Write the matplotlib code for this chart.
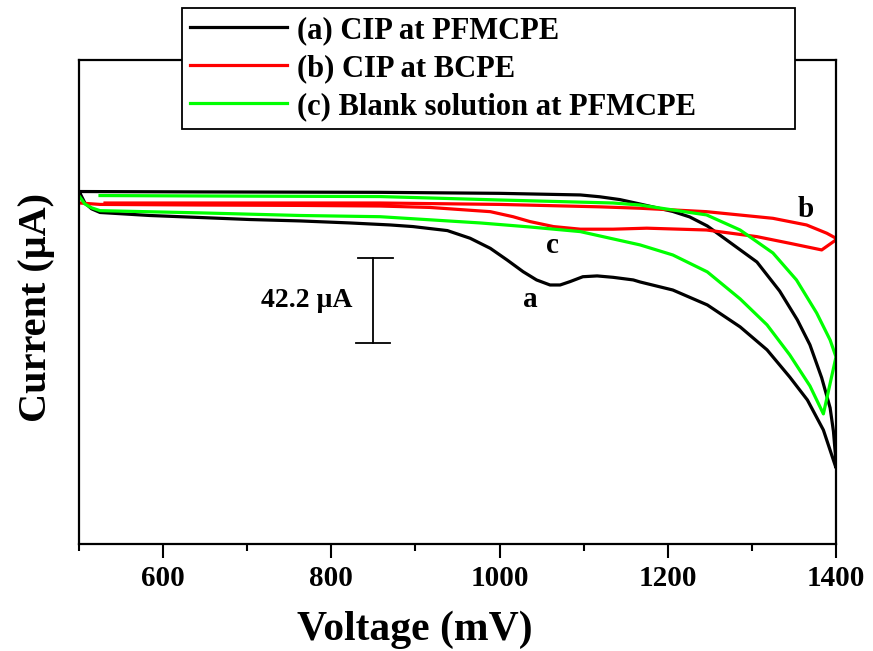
import matplotlib.pyplot as plt
from matplotlib.ticker import FixedLocator

plt.rcParams['font.family'] = ['Liberation Serif', 'DejaVu Serif']
plt.rcParams['font.weight'] = 'bold'

# (a) CIP at PFMCPE  -- voltage (mV), current (uA)
a_fwd_v = [501, 504, 507, 515, 525, 584, 644, 703, 763, 822, 870, 897, 938, 965, 989,
           1009, 1028, 1044, 1060, 1072, 1084, 1099, 1116, 1135, 1159, 1167, 1206, 1247,
           1286, 1318, 1345, 1366, 1385, 1400]
a_fwd_i = [-0.5, -3.0, -5.5, -8.4, -10.2, -11.7, -12.7, -13.7, -14.4, -15.4, -16.4, -17.2,
           -19.2, -23.0, -28.0, -33.8, -39.6, -43.7, -46.2, -46.2, -44.5, -42.1, -41.7,
           -42.4, -43.7, -44.7, -48.7, -56.1, -67.0, -78.4, -91.9, -103.3, -118.2, -137.0]
a_rev_v = [1400, 1397, 1393, 1383, 1369, 1354, 1333, 1306, 1278, 1247, 1226, 1206, 1167,
           1143, 1119, 1096, 1000, 858, 644, 501]
a_rev_i = [-134.0, -119.0, -107.2, -92.3, -75.9, -63.5, -49.2, -34.8, -26.3, -16.9, -12.4,
           -9.7, -6.0, -3.8, -2.4, -1.5, -0.7, -0.2, 0.0, 0.2]

# (b) CIP at BCPE
b_fwd_v = [501, 525, 644, 763, 858, 917, 989, 1016, 1036, 1064, 1096, 1135, 1175, 1246,
           1306, 1345, 1383, 1400]
b_fwd_i = [-5.5, -6.2, -6.5, -6.7, -7.0, -7.7, -9.8, -12.3, -14.7, -17.2, -18.5, -18.5,
           -18.0, -18.9, -22.2, -25.5, -28.8, -23.8]
b_rev_v = [1400, 1389, 1365, 1325, 1246, 1167, 1119, 1000, 858, 703, 531]
b_rev_i = [-23.0, -20.5, -16.4, -13.1, -9.8, -8.1, -7.4, -6.2, -5.5, -5.5, -5.5]

# (c) Blank solution at PFMCPE
c_fwd_v = [501, 507, 515, 525, 644, 763, 858, 977, 1036, 1096, 1167, 1206, 1247, 1286,
           1318, 1345, 1369, 1385]
c_fwd_i = [-2.5, -6.0, -7.9, -9.3, -10.4, -11.7, -12.3, -15.4, -17.4, -19.7, -26.3, -31.3,
           -39.7, -53.1, -66.0, -80.9, -96.3, -110.2]
c_rev_v = [1400, 1393, 1377, 1353, 1325, 1286, 1246, 1226, 1167, 1135, 1000, 858, 703, 525]
c_rev_i = [-81.9, -73.5, -60.1, -43.7, -30.3, -18.9, -11.4, -10.2, -6.5, -5.5, -4.0, -2.3,
           -2.1, -1.8]

labels = ['(a) CIP at PFMCPE', '(b) CIP at BCPE', '(c) Blank solution at PFMCPE']
colors = ['black', '#ff0000', '#00ff00']

# scale bar
bar_v = 849
bar_top = -32.6
bar_len = 42.2

fig = plt.figure(figsize=(8.73, 6.51), dpi=100)
ax = fig.add_axes([79 / 873, 1 - 544 / 651, 757 / 873, 484 / 651])

series = [(a_fwd_v + a_rev_v, a_fwd_i + a_rev_i),
          (b_fwd_v + b_rev_v, b_fwd_i + b_rev_i),
          (c_fwd_v + c_rev_v, c_fwd_i + c_rev_i)]
lines = []
for (v, i), lab, col in zip(series, labels, colors):
    ln, = ax.plot(v, i, color=col, lw=2.3, label=lab, solid_joinstyle='round')
    lines.append(ln)

ax.set_xlim(500, 1400)
ax.set_ylim(-174.8, 65.5)

# scale bar
ax.plot([bar_v, bar_v], [bar_top, bar_top - bar_len], color='black', lw=1.3)
ax.plot([bar_v - 17, bar_v + 24], [bar_top, bar_top], color='black', lw=1.3)
ax.plot([bar_v - 20, bar_v + 21], [bar_top - bar_len, bar_top - bar_len], color='black', lw=1.3)
ax.text(bar_v - 24, bar_top - bar_len / 2, '42.2 \u03bcA', fontsize=20, ha='right', va='center')

ax.text(1037, -53.6, 'a', fontsize=21, ha='center', va='center')
ax.text(1364, -8.9, 'b', fontsize=21, ha='center', va='center')
ax.text(1063, -26.8, 'c', fontsize=21, ha='center', va='center')

ax.set_xticks([600, 800, 1000, 1200, 1400])
ax.xaxis.set_minor_locator(FixedLocator([500, 700, 900, 1100, 1300]))
ax.tick_params(which='major', length=10, width=1.5, direction='out', labelsize=21, pad=5)
ax.tick_params(which='minor', length=5, width=1.5, direction='out')
ax.set_yticks([])
for sp in ax.spines.values():
    sp.set_linewidth(1.6)

ax.set_xlabel('Voltage (mV)', fontsize=30, fontweight='bold')
ax.xaxis.set_label_coords(0.444, -0.137)
ax.set_ylabel('Current (\u03bcA)', fontsize=29, fontweight='bold')
ax.yaxis.set_label_coords(-0.032, 0.488)

leg = ax.legend(handles=lines, loc='upper left', bbox_to_anchor=(0.136, 1.107, 0.81, 0),
                mode='expand', borderaxespad=0, fancybox=False, edgecolor='black',
                framealpha=1, fontsize=22, handlelength=3.2, handletextpad=0.3,
                labelspacing=0.3, borderpad=0.25)
leg.get_frame().set_linewidth(1.3)
for t in leg.get_texts():
    t.set_fontweight('bold')

fig.savefig('out.png', dpi=100)
